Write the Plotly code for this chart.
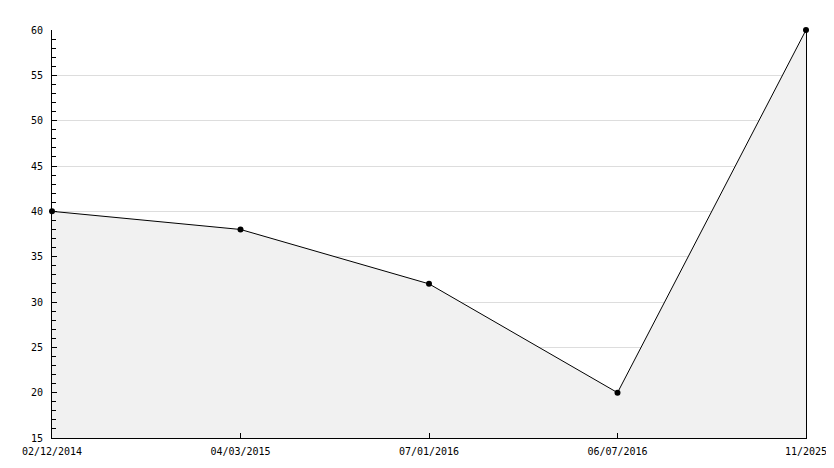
import plotly.graph_objects as go

categories = ["02/12/2014", "04/03/2015", "07/01/2016", "06/07/2016", "11/2025"]
values = [40, 38, 32, 20, 60]
y_ticks = [15, 20, 25, 30, 35, 40, 45, 50, 55, 60]

x_idx = list(range(len(categories)))

fig = go.Figure()
fig.add_trace(go.Scatter(
    x=x_idx, y=values,
    mode="lines+markers",
    line=dict(color="#000000", width=1),
    marker=dict(color="#000000", size=6, symbol="circle"),
    fill="tozeroy",
    fillcolor="#f1f1f1",
    cliponaxis=False,
    hoverinfo="skip",
    showlegend=False,
))

font = dict(family="DejaVu Sans Mono", size=10, color="#000000")

# page body has an 8px margin, so the figure is sized to fit inside the window
fig.update_layout(
    width=826, height=452,
    margin=dict(l=44, r=28, t=22, b=22),
    paper_bgcolor="#ffffff",
    plot_bgcolor="#ffffff",
    font=font,
    xaxis=dict(
        range=[0, len(categories) - 1],
        automargin=False,
        tickmode="array", tickvals=x_idx, ticktext=categories,
        ticks="inside", ticklen=5, tickcolor="#000000", tickwidth=1,
        showgrid=False, zeroline=False,
        showline=True, linecolor="#000000", linewidth=1,
        tickfont=font, ticklabelstandoff=4,
    ),
    yaxis=dict(
        range=[15, 60],
        automargin=False,
        tickmode="array", tickvals=y_ticks,
        ticks="inside", ticklen=5, tickcolor="#000000", tickwidth=1,
        minor=dict(dtick=1, ticks="inside", ticklen=4, tickcolor="#000000", showgrid=False),
        showgrid=True, gridcolor="#dddddd", gridwidth=1,
        zeroline=False,
        showline=True, mirror=True, linecolor="#000000", linewidth=1,
        tickfont=font, ticklabelstandoff=6,
    ),
)

fig.write_html("out.html")
